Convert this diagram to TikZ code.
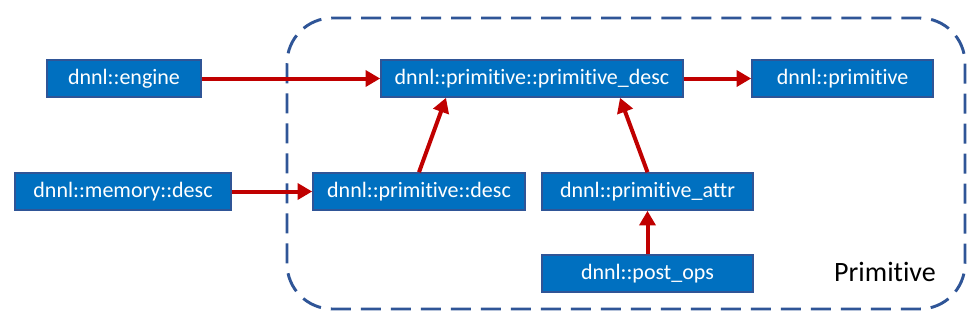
\documentclass[tikz,border=0pt]{standalone}
\usepackage{fontspec}
\setmainfont[Ligatures=NoCommon]{Carlito}
\usetikzlibrary{arrows.meta}
\definecolor{boxblue}{HTML}{0070C0}
\definecolor{edgeblue}{HTML}{2F5597}
\definecolor{arrowred}{HTML}{C00000}
\tikzset{
  apibox/.style={draw=edgeblue, line width=1.2pt, fill=boxblue, text=white,
    font=\fontsize{16.5}{18}\selectfont, minimum height=27.75pt, inner sep=0pt},
  link/.style={arrowred, line width=3pt, -{Triangle[length=11pt,width=12pt]}}
}

\begin{document}
\begin{tikzpicture}[x=0.75pt,y=-0.75pt]
    \useasboundingbox (0,0) rectangle (977,322);
    % --- PRIMITIVE REGION ---
    \draw[edgeblue, line width=2.2pt, dash pattern=on 15pt off 7.5pt, rounded corners=34pt] (287,18) rectangle (965,309);
    \node[font=\fontsize{21}{24}\selectfont] (primlabel) at (885,272) {Primitive};

    % --- BOXES ---
    \node[apibox, minimum width=115.5pt] (engine) at (124,78.5) {dnnl::engine};
    \node[apibox, minimum width=226.5pt] (pd) at (532,78.5) {dnnl::primitive::primitive\_desc};
    \node[apibox, minimum width=135.75pt] (prim) at (842.5,78.5) {dnnl::primitive};
    \node[apibox, minimum width=162pt] (memdesc) at (123,191.5) {dnnl::memory::desc};
    \node[apibox, minimum width=159pt] (opdesc) at (419,191.5) {dnnl::primitive::desc};
    \node[apibox, minimum width=158.25pt] (attr) at (647.5,191.5) {dnnl::primitive\_attr};
    \node[apibox, minimum width=158.25pt] (postops) at (647.5,273.5) {dnnl::post\_ops};

    % --- ARROWS ---
    \draw[link] (engine) -- (pd);
    \draw[link] (pd) -- (prim);
    \draw[link] (memdesc) -- (opdesc);
    \draw[link] (opdesc.north) -- ([xshift=-64.5pt]pd.south);
    \draw[link] (attr.north) -- ([xshift=66pt]pd.south);
    \draw[link] (postops) -- (attr);
\end{tikzpicture}
\end{document}
